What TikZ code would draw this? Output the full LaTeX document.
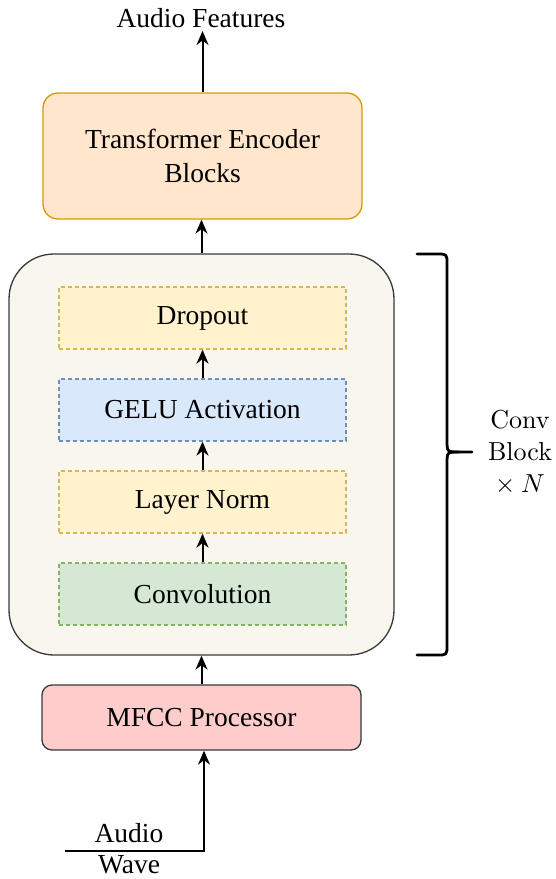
\documentclass[tikz,border=0pt]{standalone}
\usepackage{fontspec}
\newfontfamily\tnr{Liberation Serif}
\usetikzlibrary{arrows.meta}

\definecolor{encfill}{HTML}{FFE6CC}
\definecolor{encdraw}{HTML}{D79B00}
\definecolor{blkfill}{HTML}{F9F7ED}
\definecolor{blkdraw}{HTML}{36393D}
\definecolor{yelfill}{HTML}{FFF2CC}
\definecolor{yeldraw}{HTML}{D6B656}
\definecolor{bluefill}{HTML}{DAE8FC}
\definecolor{bluedraw}{HTML}{6C8EBF}
\definecolor{grnfill}{HTML}{D5E8D4}
\definecolor{grndraw}{HTML}{82B366}
\definecolor{redfill}{HTML}{FFCCCC}

\tikzset{
  txt/.style={font=\tnr\fontsize{27.5}{34}\selectfont, align=center, inner sep=0pt},
  solidbox/.style={txt, rounded corners=#1, line width=1.3pt, minimum width=319pt},
  layerbox/.style={txt, dashed, dash pattern=on 4pt off 3pt, line width=1.3pt,
                   minimum width=287pt, minimum height=62pt},
  arr/.style={line width=2pt, -{Stealth[length=14pt,width=12pt,inset=4.5pt]}},
  bracepath/.style={line width=2.8pt, line cap=round, line join=round},
}

\begin{document}
\begin{tikzpicture}[x=1pt, y=-1pt]
  \useasboundingbox (0,0) rectangle (556,879);

  % outer container for the repeated convolution block
  \node[draw=blkdraw, fill=blkfill, line width=1.3pt, rounded corners=45pt,
        minimum width=385pt, minimum height=401pt, inner sep=0pt] (blk) at (201.5,454.5) {};

  % layers inside the container
  \node[layerbox, draw=yeldraw, fill=yelfill] (drop) at (202.5,318) {Dropout};
  \node[layerbox, draw=bluedraw, fill=bluefill] (gelu) at (202.5,410) {GELU Activation};
  \node[layerbox, draw=yeldraw, fill=yelfill] (norm) at (202.5,502) {Layer Norm};
  \node[layerbox, draw=grndraw, fill=grnfill] (conv) at (202.5,594) {Convolution};

  % encoder and front end
  \node[solidbox=15pt, draw=encdraw, fill=encfill, minimum height=126pt] (enc) at (202.5,156)
        {Transformer Encoder\\Blocks};
  \node[solidbox=10pt, draw=blkdraw, fill=redfill, minimum height=65pt] (mfcc) at (201.5,717.5)
        {MFCC Processor};

  % input / output labels
  \node[txt] (feat) at (201,18) {Audio Features};
  \coordinate (ftop) at (201.5,31);
  \node[txt] (audio) at (129,833) {Audio};
  \node[txt] (wave) at (129,865) {Wave};
  \coordinate (wl) at (65,851);

  % connectors
  \draw[arr] (enc.north) -- (enc.north |- ftop);
  \draw[arr] (blk.north) -- (blk.north |- enc.south);
  \draw[arr] (mfcc.north) -- (mfcc.north |- blk.south);
  \draw[arr] (conv.north) -- (norm.south);
  \draw[arr] (norm.north) -- (gelu.south);
  \draw[arr] (gelu.north) -- (drop.south);
  \draw[arr] (wl) -| ([xshift=2.5pt]mfcc.south);

  % curly brace spanning the container
  \coordinate (btop) at (417,254);
  \coordinate (bbot) at (417,655);
  \coordinate (btip) at (472,452);
  \draw[bracepath] (btop) -- (437,254) .. controls (447,254) .. (447,264)
        -- (447,440) .. controls (447,452) .. (459,452) -- (btip);
  \draw[bracepath] (bbot) -- (437,655) .. controls (447,655) .. (447,645)
        -- (447,464) .. controls (447,452) .. (459,452);

  \node[font=\fontsize{10}{12.3}\selectfont, align=center, inner sep=0pt, scale=2.6]
        (rep) at (520,452) {Conv\\Block\\$\times\mskip4mu N$};
\end{tikzpicture}
\end{document}
